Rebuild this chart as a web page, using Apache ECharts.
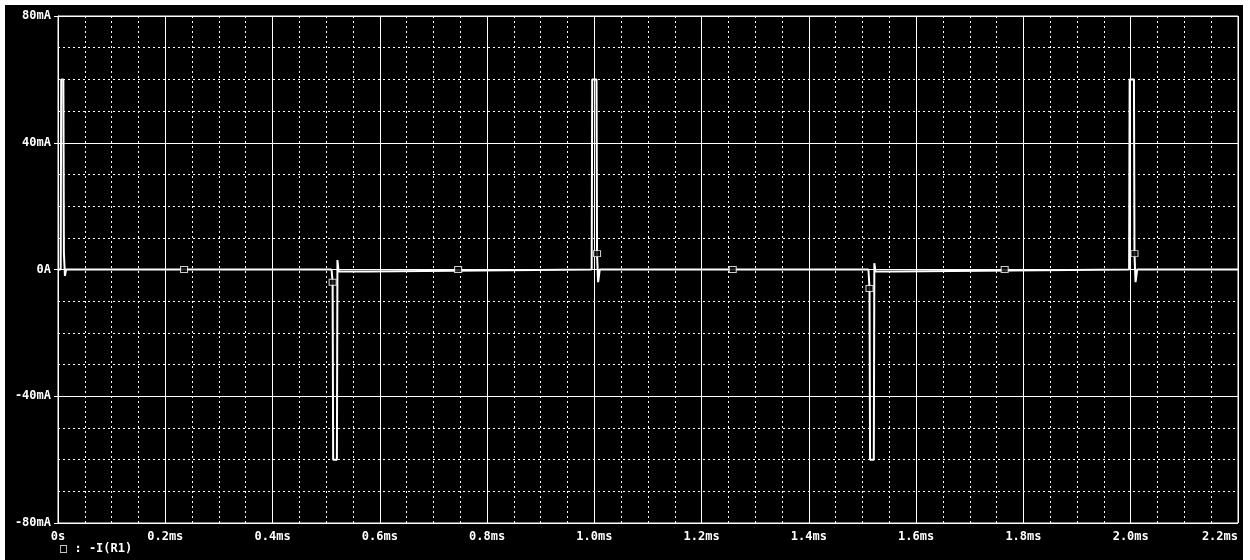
<!DOCTYPE html>
<html>
<head>
<meta charset="utf-8">
<script src="https://cdn.jsdelivr.net/npm/echarts@6/dist/echarts.min.js"></script>
<style>
  body { margin: 0; background: #ffffff; }
  #chart { position: absolute; left: 5px; top: 5px; width: 1238px; height: 555px; background: #000000; }
</style>
</head>
<body>
<div id="chart"></div>
<script>
// temps en ms, courant -I(R1) en mA
const timeMs = [
    0, 0.005, 0.006, 0.010, 0.011, 0.013, 0.015,
    0.510, 0.512, 0.513, 0.520, 0.521, 0.523, 0.526, 0.580, 0.582,
    0.995, 0.996, 1.004, 1.005, 1.007, 1.010,
    1.511, 1.513, 1.514, 1.521, 1.522, 1.524, 1.527, 1.560, 1.562,
    1.997, 1.998, 2.006, 2.007, 2.009, 2.012, 2.2
];
const currentMa = [
    0, 0, 60, 60, 5, -2, 0,
    0, -4, -60, -60, 3, -0.6, -0.6, -0.6, 0,
    0, 60, 60, 5, -4, 0,
    0, -6, -60, -60, 2, -0.6, -0.6, -0.6, 0,
    0, 60, 60, 5, -4, 0, 0
];

// petits marqueurs PSpice sur la trace
const markerTime = [0.235, 0.512, 0.746, 1.005, 1.258, 1.513, 1.765, 2.007];
const markerCurrent = [0, -4, 0, 5, 0, -6, 0, 5];

const xTicks = { min: 0, max: 2.2, step: 0.2 };
const yTicks = { min: -80, max: 80, step: 40 };

const chart = echarts.init(document.getElementById('chart'));

const labelFont = {
    color: '#ffffff',
    fontFamily: 'DejaVu Sans Mono',
    fontWeight: 'bold',
    fontSize: 12
};

const option = {
    backgroundColor: '#000000',
    animation: false,
    grid: {
        left: 53,
        right: 5,
        top: 11,
        bottom: 37,
        outerBoundsMode: 'none',
        containLabel: false,
        show: true,
        borderColor: '#ffffff',
        borderWidth: 1
    },
    xAxis: {
        type: 'value',
        min: xTicks.min,
        max: xTicks.max,
        interval: xTicks.step,
        axisLine: { show: true, lineStyle: { color: '#ffffff', width: 1 } },
        axisTick: { show: true, length: 3, lineStyle: { color: '#ffffff' } },
        axisLabel: Object.assign({}, labelFont, {
            margin: 8,
            alignMaxLabel: 'right',
            formatter: v => v === 0 ? '0s' : v.toFixed(1) + 'ms'
        }),
        splitLine: { show: true, lineStyle: { color: '#ffffff', width: 1 } },
        minorTick: { show: true, splitNumber: 4, length: 0 },
        minorSplitLine: { show: true, lineStyle: { color: '#ffffff', width: 1, type: [2, 3] } }
    },
    yAxis: {
        type: 'value',
        min: yTicks.min,
        max: yTicks.max,
        interval: yTicks.step,
        axisLine: { show: true, lineStyle: { color: '#ffffff', width: 1 } },
        axisTick: { show: true, length: 4, lineStyle: { color: '#ffffff' } },
        axisLabel: Object.assign({}, labelFont, {
            margin: 7,
            formatter: v => v === 0 ? '0A' : v + 'mA'
        }),
        splitLine: { show: true, lineStyle: { color: '#ffffff', width: 1 } },
        minorTick: { show: true, splitNumber: 4, length: 0 },
        minorSplitLine: { show: true, lineStyle: { color: '#ffffff', width: 1, type: [2, 3] } }
    },
    series: [
        {
            name: '-I(R1)',
            type: 'line',
            data: timeMs.map((t, i) => [t, currentMa[i]]),
            showSymbol: false,
            lineStyle: { color: '#ffffff', width: 2 },
            z: 5
        },
        {
            type: 'scatter',
            data: markerTime.map((t, i) => [t, markerCurrent[i]]),
            symbol: 'rect',
            symbolSize: [7, 6],
            itemStyle: { color: '#000000', borderColor: '#ffffff', borderWidth: 1 },
            z: 6
        }
    ],
    graphic: [{
        type: 'text',
        left: 55,
        top: 538,
        style: {
            text: '□ : -I(R1)',
            fill: '#ffffff',
            font: 'bold 12px "DejaVu Sans Mono"'
        }
    }]
};

chart.setOption(option);
window.addEventListener('resize', () => chart.resize());
</script>
</body>
</html>
